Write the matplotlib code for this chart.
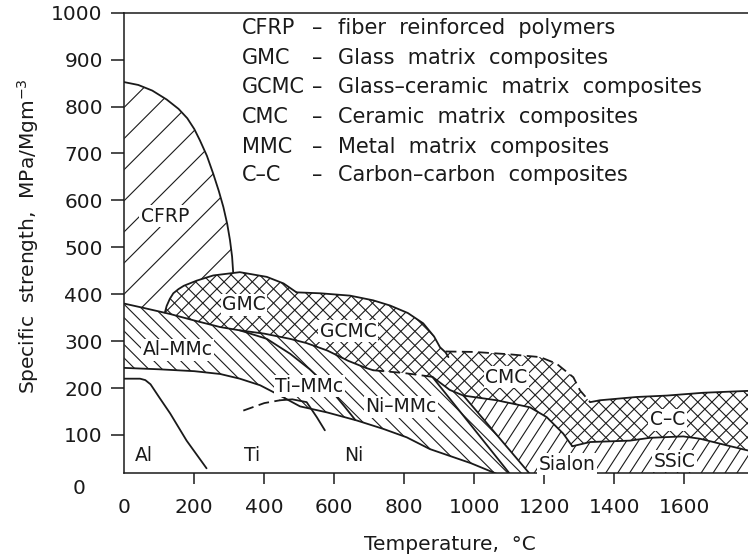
import numpy as np
import matplotlib
matplotlib.use("Agg")
import matplotlib.pyplot as plt
from matplotlib.patches import Polygon
from matplotlib.collections import LineCollection

# ---------------- data (temperature in degC, specific strength in MPa/Mgm^-3) ----------------
temp_ticks = [0, 200, 400, 600, 800, 1000, 1200, 1400, 1600]
strength_ticks = [100, 200, 300, 400, 500, 600, 700, 800, 900, 1000]

cfrp_T = [0, 40, 80, 121, 155, 180, 200, 216, 236, 254, 270, 283, 294, 302, 308, 311]
cfrp_S = [852, 846, 834, 815, 795, 775, 752, 728, 695, 657, 620, 586, 550, 515, 480, 447]

gmc_T = [116, 121, 130, 140, 155, 170, 207, 254, 330, 407, 455, 492]
gmc_S = [361, 375, 390, 402, 411, 418, 429, 440, 447, 437, 423, 404]

gcmc_T = [492, 560, 645, 711, 759, 810, 854, 885, 902, 918, 926]
gcmc_S = [404, 402, 397, 387, 376, 360, 338, 310, 287, 276, 266]

cmc_T = [918, 1000, 1100, 1188, 1235, 1283, 1302, 1331]
cmc_S = [278, 277, 272, 266, 252, 223, 195, 170]

cc_top_T = [1331, 1359, 1464, 1550, 1654, 1782]
cc_top_S = [170, 174, 181, 184, 190, 194]

cc_bot_T = [1280, 1331, 1445, 1502, 1597, 1645, 1721, 1782]
cc_bot_S = [76, 85, 88, 94, 97, 92, 78, 67]

sialon_top_T = [880, 930, 969, 1064, 1159, 1207, 1254, 1280]
sialon_top_S = [224, 196, 184, 174, 159, 138, 103, 76]

mmc_top_T = [0, 60, 130, 200, 274, 330, 400, 473, 520, 580, 640, 690, 711]
mmc_top_S = [380, 370, 358, 344, 330, 323, 316, 305, 296, 280, 258, 243, 238]

mmc_dash_T = [711, 800, 880]
mmc_dash_S = [238, 232, 224]

mmc_bot_T = [0, 100, 200, 274, 330, 388, 445, 502, 580, 664, 740, 807, 873, 990, 1120]
mmc_bot_S = [243, 240, 236, 230, 220, 206, 184, 161, 148, 131, 113, 95, 70, 40, 0]

timmc_T = [330, 407, 474, 530, 580, 630, 660]
timmc_S = [323, 305, 273, 240, 205, 160, 132]

ni_diag_T = [880, 1120]
ni_diag_S = [224, 0]

sialon_diag_T = [969, 1178]
sialon_diag_S = [184, 0]

al_T = [0, 45, 60, 75, 100, 131, 178, 235]
al_S = [220, 220, 217, 208, 180, 146, 88, 29]

ti_dash_T = [340, 400, 445]
ti_dash_S = [152, 168, 174]
ti_T = [445, 480, 521, 550, 573]
ti_S = [174, 176, 170, 138, 110]

region_labels = ["CFRP", "GMC", "GCMC", "CMC", "Al\u2013MMc", "Ti\u2013MMc", "Ni\u2013MMc",
                 "C\u2013C", "Sialon", "SSiC", "Al", "Ti", "Ni"]
region_label_T = [116, 342, 640, 1092, 152, 528, 790, 1552, 1266, 1573, 55, 366, 656]
region_label_S = [566, 378, 321, 223, 282, 204, 160, 133, 38, 44, 56, 56, 56]

legend_abbr = ["CFRP", "GMC", "GCMC", "CMC", "MMC", "C\u2013C"]
legend_desc = ["fiber  reinforced  polymers",
               "Glass  matrix  composites",
               "Glass\u2013ceramic  matrix  composites",
               "Ceramic  matrix  composites",
               "Metal  matrix  composites",
               "Carbon\u2013carbon  composites"]

# ---------------- figure layout ----------------
FW, FH = 748, 556
fig = plt.figure(figsize=(FW / 100, FH / 100), dpi=100)
ax_l, ax_b = 124.3 / FW, (FH - 473) / FH
ax_w, ax_h = 1 - ax_l, (473 - 12.7) / FH
ax = fig.add_axes([ax_l, ax_b, ax_w, ax_h])
XMAX, YMIN, YMAX = 1782, 19, 1000
ax.set_xlim(0, XMAX)
ax.set_ylim(YMIN, YMAX)

INK = "#1a1a1a"
W_ax, H_ax = ax_w * FW, ax_h * FH


def pts(T, S):
    return list(zip(T, S))


def hatch(verts, angles, spacing, lw=0.8):
    poly = Polygon(verts, closed=True, facecolor="none", edgecolor="none")
    ax.add_patch(poly)
    L = np.hypot(W_ax, H_ax)
    c = np.array([W_ax / 2, H_ax / 2])
    for ang in angles:
        th = np.deg2rad(ang)
        d = np.array([np.cos(th), np.sin(th)])
        n = np.array([-np.sin(th), np.cos(th)])
        segs = []
        for k in np.arange(-L / 2, L / 2, spacing):
            p0 = c + k * n - L * d
            p1 = c + k * n + L * d
            segs.append([(p0[0] / W_ax, p0[1] / H_ax), (p1[0] / W_ax, p1[1] / H_ax)])
        lc = LineCollection(segs, transform=ax.transAxes, colors=INK, linewidths=lw)
        lc.set_clip_path(poly)
        ax.add_collection(lc)
        lc.set_clip_box(ax.bbox)


# CFRP region ("/" wide)
cfrp_poly = (pts(cfrp_T, cfrp_S)
             + [p for p in reversed(pts(gmc_T, gmc_S)) if p[0] < cfrp_T[-1]]
             + [p for p in reversed(pts(mmc_top_T, mmc_top_S)) if p[0] < gmc_T[0]])
hatch(cfrp_poly, [45], 22)

# cross-hatched composites (GMC, GCMC, CMC, C-C)
cross_poly = (pts(gmc_T, gmc_S) + pts(gcmc_T, gcmc_S)[1:-1] + pts(cmc_T, cmc_S)
              + pts(cc_top_T, cc_top_S)[1:]
              + [(XMAX + 10, cc_top_S[-1]), (XMAX + 10, cc_bot_S[-1])]
              + list(reversed(pts(cc_bot_T, cc_bot_S)))[:-1]
              + list(reversed(pts(sialon_top_T, sialon_top_S)))
              + list(reversed(pts(mmc_dash_T, mmc_dash_S)))[1:]
              + [p for p in reversed(pts(mmc_top_T, mmc_top_S)) if p[0] > gmc_T[0]])
hatch(cross_poly, [45, -45], 10)

# metal matrix composites ("\" dense)
mmc_poly = (pts(mmc_top_T, mmc_top_S) + pts(mmc_dash_T, mmc_dash_S)[1:]
            + [p for p in pts(sialon_top_T, sialon_top_S) if 880 < p[0] <= sialon_diag_T[0]]
            + [(sialon_diag_T[1], sialon_diag_S[1])]
            + list(reversed(pts(mmc_bot_T, mmc_bot_S))))
hatch(mmc_poly, [-45], 9.5)

# Sialon + SSiC ("/" steep)
ceramic_poly = ([p for p in pts(sialon_top_T, sialon_top_S) if p[0] >= sialon_diag_T[0]]
                + pts(cc_bot_T, cc_bot_S)[1:]
                + [(XMAX + 10, cc_bot_S[-1]), (XMAX + 10, 0), (sialon_diag_T[1], 0)])
hatch(ceramic_poly, [57], 10)

# boundaries
LW = 1.3
solid = dict(color=INK, lw=LW, solid_capstyle="round", solid_joinstyle="round")
dashed = dict(color=INK, lw=LW, dashes=(6, 3))
for T, S in [(cfrp_T, cfrp_S), (gmc_T, gmc_S), (gcmc_T, gcmc_S), (cc_top_T, cc_top_S),
             (cc_bot_T, cc_bot_S), (sialon_top_T, sialon_top_S), (mmc_top_T, mmc_top_S),
             (mmc_bot_T, mmc_bot_S), (timmc_T, timmc_S), (ni_diag_T, ni_diag_S),
             (sialon_diag_T, sialon_diag_S), (al_T, al_S), (ti_T, ti_S)]:
    ax.plot(T, S, **solid)
for T, S in [(cmc_T, cmc_S), (mmc_dash_T, mmc_dash_S), (ti_dash_T, ti_dash_S)]:
    ax.plot(T, S, **dashed)

# region labels
for lab, t, s in zip(region_labels, region_label_T, region_label_S):
    ax.text(t, s, lab, fontsize=13.5, color=INK, ha="center", va="center", zorder=5,
            bbox=dict(boxstyle="square,pad=0.08", fc="white", ec="none"))

# axes styling
ax.spines["right"].set_visible(False)
for side in ["left", "bottom", "top"]:
    ax.spines[side].set_linewidth(1.1)
    ax.spines[side].set_color(INK)
ax.set_xticks(temp_ticks)
ax.set_xticklabels([str(t) for t in temp_ticks])
ax.set_yticks(strength_ticks)
ax.set_yticklabels([str(s) for s in strength_ticks])
ax.tick_params(axis="x", direction="out", length=8, width=1.1, pad=10, labelsize=14.5,
               colors=INK)
ax.tick_params(axis="y", direction="out", length=9.5, width=1.1, pad=6, labelsize=14.5,
               colors=INK)
ax.xaxis.get_major_ticks()[0].tick1line.set_visible(False)

fig.text(85 / FW, 1 - 488 / FH, "0", fontsize=14.5, color=INK, ha="right", va="center")
fig.text(450 / FW, 1 - 545 / FH, "Temperature,  \u00b0C", fontsize=14.5, color=INK,
         ha="center", va="center")
fig.text(28 / FW, 1 - 236 / FH, "Specific  strength,  MPa/Mgm$^{-3}$", fontsize=14.5,
         color=INK, ha="center", va="center", rotation=90)

# legend block
row_y = [28, 58, 87, 117, 147, 175]
for a, d, y in zip(legend_abbr, legend_desc, row_y):
    fy = 1 - y / FH
    fig.text(241.7 / FW, fy, a, fontsize=15, color=INK, ha="left", va="center")
    fig.text(317 / FW, fy, "\u2013", fontsize=15, color=INK, ha="center", va="center")
    fig.text(338 / FW, fy, d, fontsize=15, color=INK, ha="left", va="center")

fig.savefig("out.png", dpi=100)
